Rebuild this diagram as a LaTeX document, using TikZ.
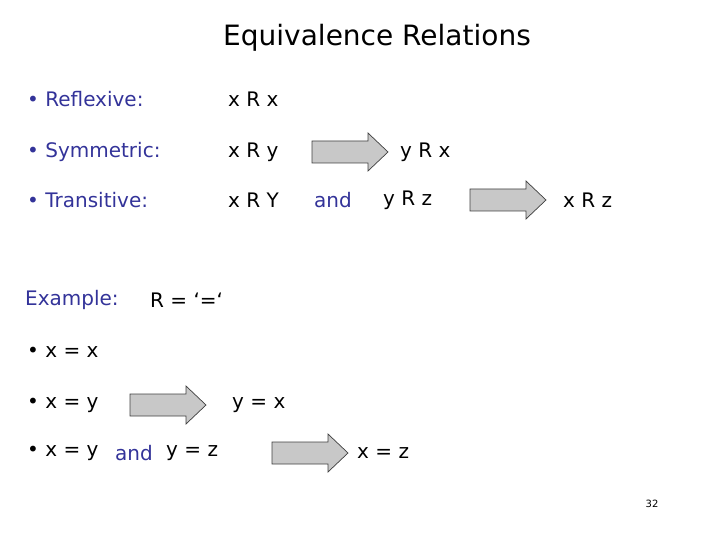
\documentclass[tikz,border=0pt]{standalone}
\usepackage{fontspec}
\setmainfont{DejaVu Sans}
\definecolor{lblue}{HTML}{333399}
\definecolor{agray}{HTML}{C8C8C8}
\newcommand{\fatarrow}[1]{%
  \begin{scope}[shift={(#1)}]
  \draw[draw=black!75,fill=agray,line width=0.7pt] (-38,-11) -- (18,-11) -- (18,-19) -- (38,0) -- (18,19) -- (18,11) -- (-38,11) -- cycle;
  \end{scope}}
\begin{document}
\begin{tikzpicture}[x=1pt,y=-1pt,
  txt/.style={anchor=west,inner sep=0pt,font=\fontsize{20}{23}\selectfont},
  lbl/.style={txt,text=lblue}]
\useasboundingbox (0,0) rectangle (720,540);
\node[inner sep=0pt,font=\fontsize{28}{33}\selectfont] (title) at (377,38) {Equivalence Relations};
\node[lbl] (l1) at (27,99) {• Reflexive:};
\node[lbl] (l2) at (27,152) {• Symmetric:};
\node[lbl] (l3) at (27,200) {• Transitive:};
\node[txt] (r1) at (228,99) {x R x};
\node[txt] (s1) at (228,152) {x R y};
\coordinate (a1) at (350,152); \fatarrow{a1}
\node[txt] (s2) at (400,152) {y R x};
\node[txt] (t1) at (228,200) {x R Y};
\node[lbl] (and1) at (314,200) {and};
\node[txt] (t2) at (383,200) {y R z};
\coordinate (a2) at (508,200); \fatarrow{a2}
\node[txt] (t3) at (563,200) {x R z};
\node[lbl] (ex) at (25,300) {Example:};
\node[txt] (exr) at (150,300) {R = ‘=‘};
\node[txt] (e1) at (27,352) {• x = x};
\node[txt] (e2) at (27,405) {• x = y};
\coordinate (a3) at (168,405); \fatarrow{a3}
\node[txt] (e2b) at (232,405) {y = x};
\node[txt] (e3) at (27,453) {• x = y};
\node[lbl] (and2) at (115,453) {and};
\node[txt] (e3b) at (166,453) {y = z};
\coordinate (a4) at (310,453); \fatarrow{a4}
\node[txt] (e3c) at (357,453) {x = z};
\node[inner sep=0pt,font=\fontsize{10}{12}\selectfont] (pg) at (652,504) {32};
\end{tikzpicture}
\end{document}
